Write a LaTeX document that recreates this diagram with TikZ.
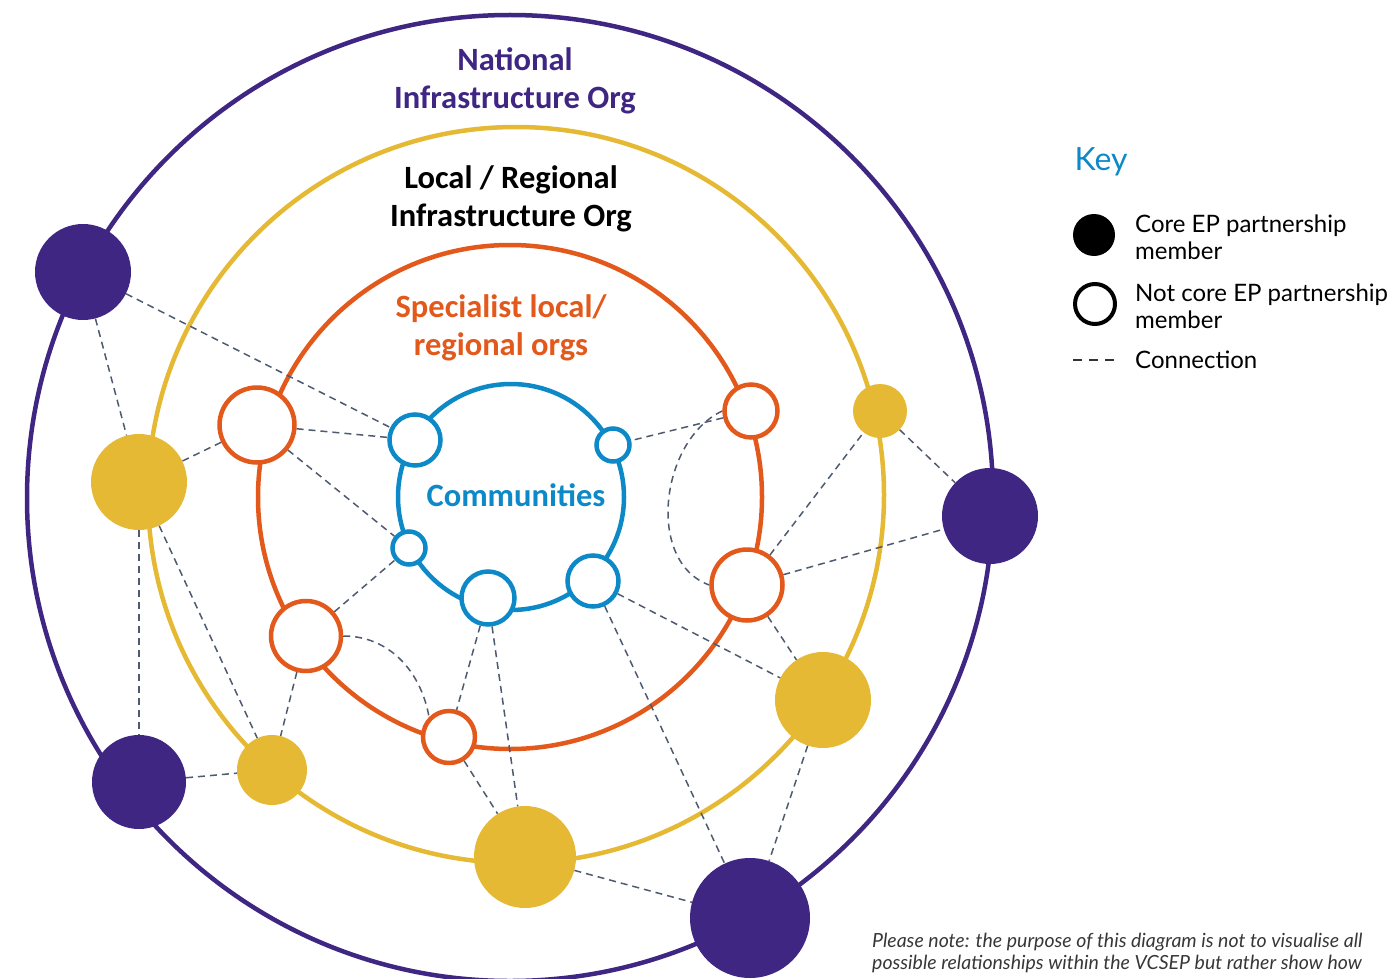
\documentclass[tikz,border=0pt]{standalone}
\usepackage{fontspec}
\setmainfont{Lato}
\newfontfamily\headfont{Carlito}
\definecolor{natpurple}{RGB}{63,38,131}
\definecolor{locyellow}{RGB}{230,185,53}
\definecolor{specorange}{RGB}{227,88,27}
\definecolor{commblue}{RGB}{14,137,199}
\definecolor{linkgray}{RGB}{78,90,112}
\definecolor{notegray}{RGB}{55,55,55}
\tikzstyle{ring} = [line width=4.5pt]
\tikzstyle{core} = [circle, inner sep=0pt]
\tikzstyle{member} = [circle, draw, fill=white, line width=4.5pt, inner sep=0pt]
\tikzstyle{link} = [color=linkgray, line width=1.5pt, dash pattern=on 7pt off 5pt]
\tikzstyle{heading} = [font=\headfont\bfseries\fontsize{32.5}{38}\selectfont,
                       align=center]
\tikzstyle{keytext} = [font=\fontsize{24}{27.5}\selectfont, align=left,
                       anchor=west, inner sep=0pt]
\newcommand{\drawLink}[2]
{
    \draw [link] (#1) -- (#2);
}
\newcommand{\drawRing}[3]
{
    \draw [ring, color=#3] (#1) circle [radius=#2];
}

\begin{document}
\begin{tikzpicture}[x=1pt, y=-1pt]
\useasboundingbox (0,0) rectangle (1392,979);
\coordinate (cnat) at (510,498);
\coordinate (cloc) at (516,495);
\coordinate (cspec) at (510,497);
\coordinate (ccomm) at (511,497);

\drawRing{cnat}{483pt}{natpurple}
\drawRing{cloc}{368pt}{locyellow}
\drawRing{cspec}{252pt}{specorange}
\drawRing{ccomm}{113pt}{commblue}

% national (core)
\node (p1) [core, fill=natpurple, minimum size=96pt] at (83,272) {};
\node (p2) [core, fill=natpurple, minimum size=96pt] at (990,516) {};
\node (p3) [core, fill=natpurple, minimum size=94pt] at (139,782) {};
\node (p4) [core, fill=natpurple, minimum size=120pt] at (750,918) {};

% local / regional (core)
\node (y1) [core, fill=locyellow, minimum size=96pt] at (139,482) {};
\node (y2) [core, fill=locyellow, minimum size=54pt] at (880,411) {};
\node (y3) [core, fill=locyellow, minimum size=96pt] at (823,700) {};
\node (y4) [core, fill=locyellow, minimum size=70pt] at (272,770) {};
\node (y5) [core, fill=locyellow, minimum size=102pt] at (525,857) {};

% specialist (not core)
\node (o1) [member, draw=specorange, minimum size=75pt] at (257,425) {};
\node (o2) [member, draw=specorange, minimum size=53pt] at (751,411) {};
\node (o3) [member, draw=specorange, minimum size=71pt] at (747,585) {};
\node (o4) [member, draw=specorange, minimum size=70pt] at (306,636) {};
\node (o5) [member, draw=specorange, minimum size=52pt] at (449,737) {};

% communities (not core)
\node (b1) [member, draw=commblue, minimum size=51pt] at (415,440) {};
\node (b2) [member, draw=commblue, minimum size=33pt] at (613,445) {};
\node (b3) [member, draw=commblue, minimum size=33pt] at (409,548) {};
\node (b4) [member, draw=commblue, minimum size=53pt] at (488,598) {};
\node (b5) [member, draw=commblue, minimum size=51pt] at (593,581) {};

\drawLink{p1}{b1}
\drawLink{p1}{y1}
\drawLink{o1}{b1}
\drawLink{o1}{y1}
\drawLink{o1}{b3}
\drawLink{y1}{p3}
\drawLink{y1}{y4}
\drawLink{p3}{y4}
\drawLink{o4}{y4}
\drawLink{o4}{b3}
\drawLink{b4}{o5}
\drawLink{b4}{y5}
\drawLink{o5}{y5}
\drawLink{y5}{p4}
\drawLink{b5}{p4}
\drawLink{b5}{y3}
\drawLink{o3}{y3}
\drawLink{y3}{p4}
\drawLink{o3}{p2}
\drawLink{o3}{y2}
\drawLink{y2}{p2}
\drawLink{o2}{b2}
\draw [link] (o4.east) to[out=0, in=100] (o5.north west);
\draw [link] (o2.west) to[out=205, in=160] (o3.west);

\node (tnat) [heading, text=natpurple] at (515,81) {National\\Infrastructure Org};
\node (tloc) [heading, text=black] at (511,199) {Local / Regional\\Infrastructure Org};
\node (tspec) [heading, text=specorange] at (501,328) {Specialist local/\\regional orgs};
\node (tcomm) [heading, text=commblue] at (516,495) {Communities};

% key
\node (tkey) [font=\fontsize{32}{36}\selectfont, text=commblue] at (1101,162) {Key};
\node (kcore) [core, fill=black, minimum size=42pt] at (1094,235) {};
\node (kopen) [member, draw=black, minimum size=40pt, line width=4pt] at (1095,304) {};
\coordinate (kl) at (1073,360);
\coordinate (kr) at (1118,360);
\draw [color=black!80, line width=1.2pt, dash pattern=on 9pt off 7pt] (kl) -- (kr);
\node (tcore) [keytext] at (1135,237) {Core EP partnership\\member};
\node (topen) [keytext] at (1135,306) {Not core EP partnership\\member};
\node (tlink) [keytext] at (1135,360) {Connection};

\node (note) [font=\itshape\fontsize{19.5}{22}\selectfont, text=notegray, align=left,
              anchor=north west, inner sep=0pt] at (872,933)
  {Please note: the purpose of this diagram is not to visualise all\\
   possible relationships within the VCSEP but rather show how};
\end{tikzpicture}
\end{document}
